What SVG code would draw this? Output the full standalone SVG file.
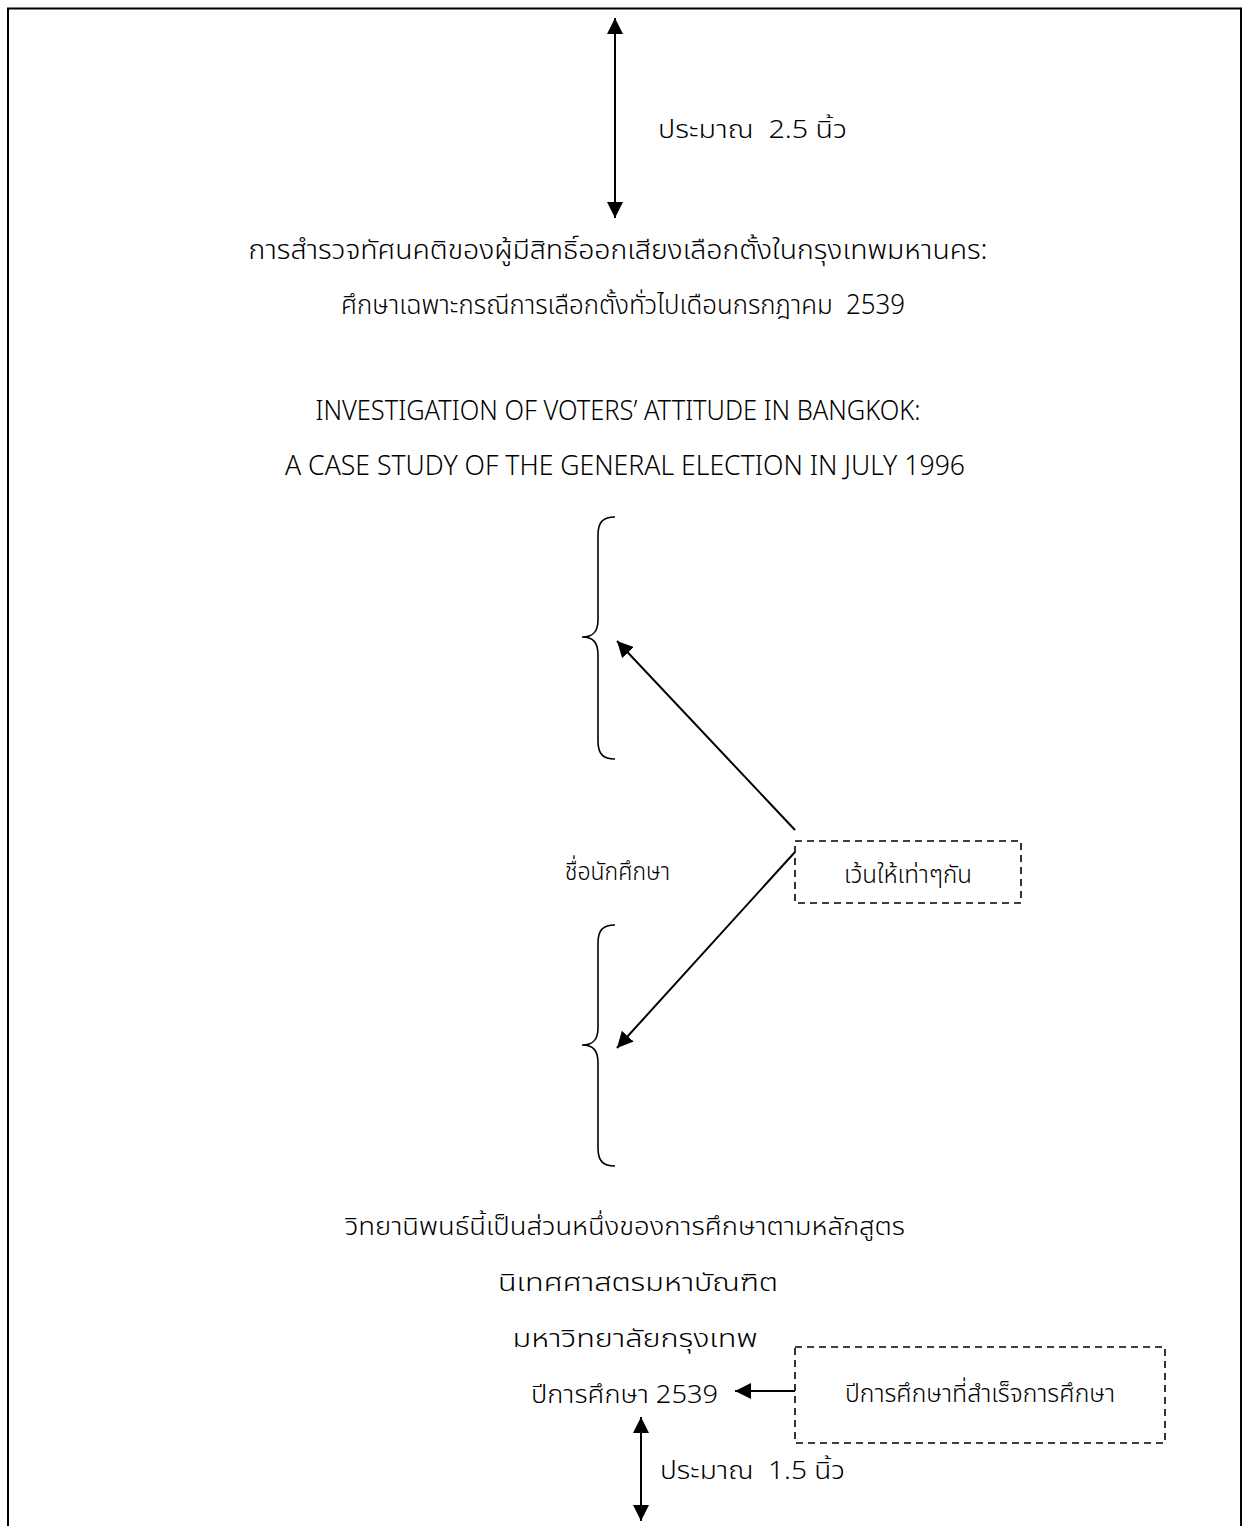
<svg xmlns="http://www.w3.org/2000/svg" width="1242" height="1526" viewBox="0 0 1242 1526">
<defs>
<marker id="ah" viewBox="0 0 16 16" markerWidth="16" markerHeight="16" refX="16" refY="8" orient="auto-start-reverse" markerUnits="userSpaceOnUse">
<path d="M0,0 L16,8 L0,16 z" fill="#000"/>
</marker>
<style>
.t{font-family:"Noto Sans Thai","Noto Sans","DejaVu Sans",sans-serif;font-size:25px;font-weight:300;fill:#000;white-space:pre}
.lg{font-size:27px}
.c{text-anchor:middle}
.ln{stroke:#000;stroke-width:2;fill:none}
.br{stroke:#000;stroke-width:1.6;fill:none}
.db{stroke:#000;stroke-width:1.6;fill:#fff;stroke-dasharray:7,5}
</style>
</defs>
<rect width="1242" height="1526" fill="#fff"/>
<g id="frame">
<path class="ln" d="M8,1526 L8,8.5 L1241,8.5 L1241,1526"/>
</g>
<g id="connectors">
<line class="ln" x1="615" y1="18" x2="615" y2="218" marker-start="url(#ah)" marker-end="url(#ah)"/>
<line class="ln" x1="795" y1="830" x2="617" y2="641" marker-end="url(#ah)"/>
<line class="ln" x1="795" y1="852" x2="617" y2="1048" marker-end="url(#ah)"/>
<line class="ln" x1="795" y1="1391" x2="735" y2="1391" marker-end="url(#ah)"/>
<line class="ln" x1="641" y1="1417" x2="641" y2="1521" marker-start="url(#ah)" marker-end="url(#ah)"/>
</g>
<g id="brace-top">
<path class="br" d="M615,517 C603,517 598,522 598,535 L598,620 C598,632 593,637 582,637 C593,637 598,642 598,655 L598,741 C598,754 603,759 615,759"/>
</g>
<g id="brace-bottom">
<path class="br" d="M615,925 C603,925 598,930 598,943 L598,1028 C598,1040 593,1045 582,1045 C593,1045 598,1050 598,1063 L598,1148 C598,1161 603,1166 615,1166"/>
</g>
<g id="label-top">
<text class="t" x="658" y="138" textLength="189" lengthAdjust="spacingAndGlyphs">ประมาณ  2.5 นิ้ว</text>
</g>
<g id="title-th">
<text class="t lg c" x="618" y="259" textLength="739" lengthAdjust="spacingAndGlyphs">การสำรวจทัศนคติของผู้มีสิทธิ์ออกเสียงเลือกตั้งในกรุงเทพมหานคร:</text>
<text class="t lg c" x="623" y="314" textLength="564" lengthAdjust="spacingAndGlyphs">ศึกษาเฉพาะกรณีการเลือกตั้งทั่วไปเดือนกรกฎาคม  2539</text>
</g>
<g id="title-en">
<text class="t lg c" x="618" y="420" textLength="605" lengthAdjust="spacingAndGlyphs">INVESTIGATION OF VOTERS’ ATTITUDE IN BANGKOK:</text>
<text class="t lg c" x="625" y="475" textLength="680" lengthAdjust="spacingAndGlyphs">A CASE STUDY OF THE GENERAL ELECTION IN JULY 1996</text>
</g>
<g id="student">
<text class="t" x="565" y="880" textLength="105" lengthAdjust="spacingAndGlyphs">ชื่อนักศึกษา</text>
</g>
<g id="box-equal">
<rect class="db" x="795" y="841" width="226" height="62"/>
<text class="t c" x="908" y="883" textLength="128" lengthAdjust="spacingAndGlyphs">เว้นให้เท่าๆกัน</text>
</g>
<g id="degree">
<text class="t c" x="625" y="1235" textLength="560" lengthAdjust="spacingAndGlyphs">วิทยานิพนธ์นี้เป็นส่วนหนึ่งของการศึกษาตามหลักสูตร</text>
<text class="t c" x="638" y="1291" textLength="280" lengthAdjust="spacingAndGlyphs">นิเทศศาสตรมหาบัณฑิต</text>
<text class="t c" x="635" y="1347" textLength="245" lengthAdjust="spacingAndGlyphs">มหาวิทยาลัยกรุงเทพ</text>
<text class="t" x="531" y="1403" textLength="187" lengthAdjust="spacingAndGlyphs">ปีการศึกษา 2539</text>
</g>
<g id="box-year">
<rect class="db" x="795" y="1347" width="370" height="96"/>
<text class="t c" x="980" y="1402" textLength="270" lengthAdjust="spacingAndGlyphs">ปีการศึกษาที่สำเร็จการศึกษา</text>
</g>
<g id="label-bottom">
<text class="t" x="660" y="1479" textLength="185" lengthAdjust="spacingAndGlyphs">ประมาณ  1.5 นิ้ว</text>
</g>
</svg>
